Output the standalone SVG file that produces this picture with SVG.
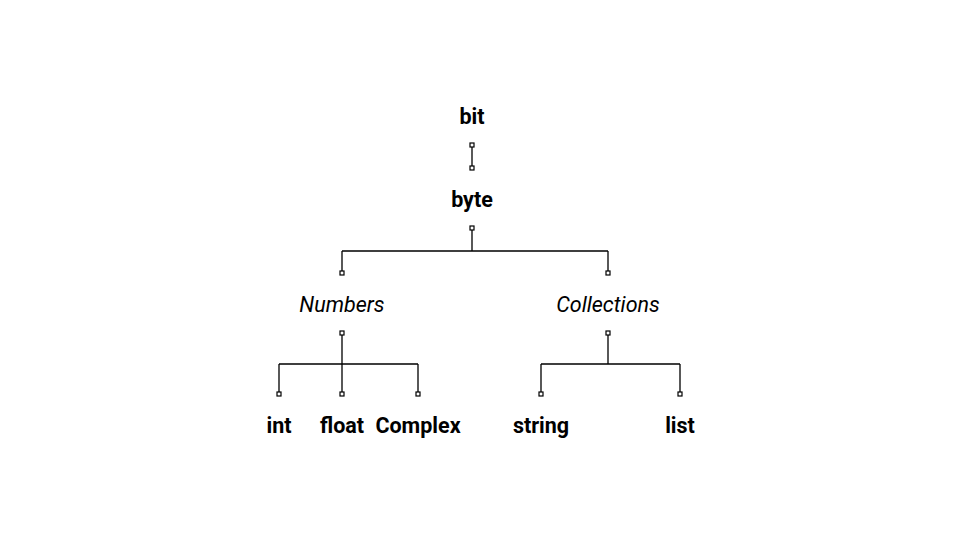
<svg xmlns="http://www.w3.org/2000/svg" width="960" height="540" viewBox="0 0 960 540">
<style>
.b{font-family:Roboto,"Liberation Sans",sans-serif;font-weight:bold;font-size:21.5px;fill:#000;text-anchor:middle}
.i{font-family:Roboto,"Liberation Sans",sans-serif;font-style:italic;font-size:21.5px;fill:#000;text-anchor:middle}
.c{fill:none;stroke:#000;stroke-width:1.3}
.p{fill:#fff;stroke:#000;stroke-width:1.2}
</style>
<rect width="960" height="540" fill="#fff"/>
<g id="connectors">
<path class="c" d="M472 145V168"/>
<path class="c" d="M472 228V251M342 251H608M342 251V273M608 251V273"/>
<path class="c" d="M342 333V364M279 364H418M279 364V394M342 364V394M418 364V394"/>
<path class="c" d="M608 333V364M541 364H680M541 364V394M680 364V394"/>
<g id="ports">
<rect class="p" x="470" y="143" width="4" height="4"/>
<rect class="p" x="470" y="166" width="4" height="4"/>
<rect class="p" x="470" y="226" width="4" height="4"/>
<rect class="p" x="340" y="271" width="4" height="4"/>
<rect class="p" x="606" y="271" width="4" height="4"/>
<rect class="p" x="340" y="331" width="4" height="4"/>
<rect class="p" x="606" y="331" width="4" height="4"/>
<rect class="p" x="277" y="392" width="4" height="4"/>
<rect class="p" x="340" y="392" width="4" height="4"/>
<rect class="p" x="416" y="392" width="4" height="4"/>
<rect class="p" x="539" y="392" width="4" height="4"/>
<rect class="p" x="678" y="392" width="4" height="4"/>
</g>
</g>
<g id="bit"><text class="b" x="472" y="124">bit</text></g>
<g id="byte"><text class="b" x="472" y="207">byte</text></g>
<g id="numbers"><text class="i" x="342" y="312">Numbers</text></g>
<g id="collections"><text class="i" x="608" y="312">Collections</text></g>
<g id="int"><text class="b" x="279" y="433">int</text></g>
<g id="float"><text class="b" x="342" y="433">float</text></g>
<g id="complex"><text class="b" x="418" y="433">Complex</text></g>
<g id="string"><text class="b" x="541" y="433">string</text></g>
<g id="list"><text class="b" x="680" y="433">list</text></g>
</svg>
